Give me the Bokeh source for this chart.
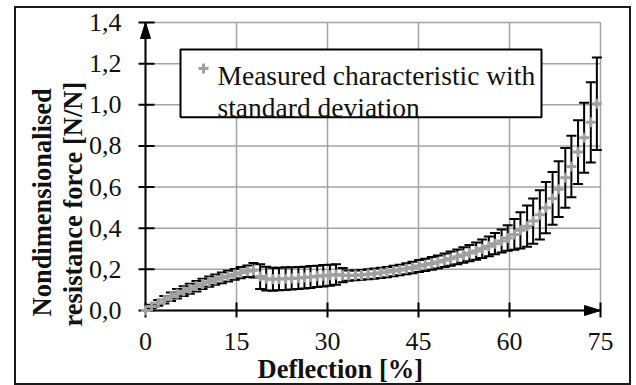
from bokeh.plotting import figure
from bokeh.layouts import column
from bokeh.models import (Range1d, FixedTicker, CustomJSTickFormatter, Label, BoxAnnotation,
                          ColumnDataSource, Title)
from bokeh.embed import file_html
from bokeh.resources import INLINE

# ---------------- data ----------------
deflection = [0.0, 1.0, 2.1, 3.1, 4.2, 5.2, 6.3, 7.3, 8.4, 9.4, 10.5, 11.5, 12.6, 13.6, 14.7, 15.7,
              16.8, 17.8, 18.9, 19.9, 21.0, 22.0, 23.1, 24.1, 25.2, 26.2, 27.2, 28.3, 29.3, 30.4,
              31.4, 32.5, 33.5, 34.6, 35.6, 36.7, 37.7, 38.8, 39.8, 40.9, 41.9, 43.0, 44.0, 45.1,
              46.1, 47.2, 48.2, 49.3, 50.3, 51.4, 52.4, 53.4, 54.5, 55.5, 56.6, 57.6, 58.7, 59.7,
              60.8, 61.8, 62.9, 63.9, 65.0, 66.0, 67.1, 68.1, 69.2, 70.2, 71.3, 72.3, 73.4, 74.4]
force_mean = [0.000, 0.020, 0.037, 0.052, 0.067, 0.081, 0.094, 0.106, 0.118, 0.129, 0.140, 0.150,
              0.159, 0.167, 0.176, 0.184, 0.191, 0.196, 0.165, 0.155, 0.152, 0.153, 0.155, 0.156,
              0.158, 0.160, 0.163, 0.166, 0.169, 0.172, 0.175, 0.172, 0.170, 0.171, 0.173, 0.176,
              0.179, 0.183, 0.187, 0.192, 0.197, 0.203, 0.209, 0.216, 0.222, 0.229, 0.236, 0.244,
              0.252, 0.261, 0.270, 0.279, 0.289, 0.300, 0.312, 0.325, 0.338, 0.352, 0.370, 0.390,
              0.410, 0.435, 0.465, 0.500, 0.545, 0.590, 0.645, 0.700, 0.770, 0.840, 0.915, 1.005]
force_std = [0.000, 0.008, 0.014, 0.018, 0.021, 0.023, 0.024, 0.024, 0.025, 0.025, 0.025, 0.025,
             0.026, 0.026, 0.026, 0.027, 0.028, 0.035, 0.060, 0.058, 0.056, 0.055, 0.055, 0.054,
             0.054, 0.053, 0.053, 0.052, 0.052, 0.051, 0.050, 0.035, 0.025, 0.024, 0.024, 0.024,
             0.025, 0.025, 0.025, 0.026, 0.026, 0.027, 0.028, 0.029, 0.030, 0.031, 0.032, 0.033,
             0.035, 0.036, 0.038, 0.040, 0.042, 0.045, 0.048, 0.052, 0.056, 0.062, 0.075, 0.088,
             0.100, 0.110, 0.120, 0.125, 0.128, 0.135, 0.145, 0.150, 0.155, 0.170, 0.195, 0.225]
x_ticks = [0, 15, 30, 45, 60, 75]
y_ticks = [0.0, 0.2, 0.4, 0.6, 0.8, 1.0, 1.2, 1.4]
legend_lines = ["Measured characteristic with", "standard deviation"]
x_title = "Deflection [%]"
y_title_lines = ["Nondimensionalised", "resistance force [N/N]"]

FONT = "Liberation Serif"
GRID = "#a3a3a3"
MARK = "#a0a0a0"
INK = "#111111"

X_MIN, X_MAX = 0, 75
Y_MIN, Y_MAX = 0.0, 1.4
SX = 455 / (X_MAX - X_MIN)      # px per % deflection
SY = 288.7 / (Y_MAX - Y_MIN)    # px per N/N

upper = [m + s for m, s in zip(force_mean, force_std)]
lower = [m - s for m, s in zip(force_mean, force_std)]
src = ColumnDataSource(dict(x=deflection, y=force_mean, hi=upper, lo=lower))

p = figure(width=613, height=375, output_backend="svg", toolbar_location=None,
           x_range=Range1d(X_MIN - 8 / SX, X_MAX + 6 / SX),
           y_range=Range1d(Y_MIN - 9 / SY, Y_MAX + 8 / SY),
           min_border_left=121, min_border_right=23, min_border_top=6, min_border_bottom=63)
p.background_fill_color = "white"
p.border_fill_color = "white"
p.outline_line_color = None
p.grid.visible = False

# axes: only labels from Bokeh, lines/ticks drawn below
p.xaxis.ticker = FixedTicker(ticks=x_ticks)
p.yaxis.ticker = FixedTicker(ticks=y_ticks)
p.yaxis.formatter = CustomJSTickFormatter(code="return tick.toFixed(1).replace('.', ',');")
for ax in (p.xaxis, p.yaxis):
    ax.axis_line_color = None
    ax.major_tick_line_color = None
    ax.minor_tick_line_color = None
    ax.major_tick_in = 0
    ax.major_tick_out = 0
    ax.major_label_text_font = FONT
    ax.major_label_text_font_size = "26px"
    ax.major_label_text_color = INK
p.xaxis.major_label_standoff = 13
p.yaxis.major_label_standoff = 16

# grid lines
p.segment(x0=x_ticks, y0=[Y_MIN] * len(x_ticks), x1=x_ticks, y1=[Y_MAX] * len(x_ticks),
          line_color=GRID, line_width=1.5)
p.segment(x0=[X_MIN] * len(y_ticks), y0=y_ticks, x1=[X_MAX] * len(y_ticks), y1=y_ticks,
          line_color=GRID, line_width=1.5)

# axis lines
p.segment(x0=[X_MIN, X_MIN], y0=[Y_MIN, Y_MIN], x1=[X_MIN, X_MAX], y1=[Y_MAX, Y_MIN],
          line_color="black", line_width=2)
# tick marks crossing the axes
p.segment(x0=[X_MIN - 7 / SX] * len(y_ticks), y0=y_ticks, x1=[X_MIN + 9 / SX] * len(y_ticks),
          y1=y_ticks, line_color="black", line_width=2)
p.segment(x0=x_ticks, y0=[Y_MIN - 7 / SY] * len(x_ticks), x1=x_ticks,
          y1=[Y_MIN + 8 / SY] * len(x_ticks), line_color="black", line_width=2)
# arrow heads
p.patch(x=[X_MIN, X_MIN - 5 / SX, X_MIN + 5 / SX], y=[Y_MAX, Y_MAX - 16 / SY, Y_MAX - 16 / SY],
        fill_color="black", line_color="black")
p.patch(x=[X_MAX, X_MAX - 16 / SX, X_MAX - 16 / SX], y=[Y_MIN, Y_MIN + 5 / SY, Y_MIN - 5 / SY],
        fill_color="black", line_color="black")

# error bars
p.segment(x0="x", y0="lo", x1="x", y1="hi", source=src, line_color="black", line_width=2)
p.scatter(x="x", y="hi", source=src, marker="dash", size=10, line_color="black", line_width=2)
p.scatter(x="x", y="lo", source=src, marker="dash", size=10, line_color="black", line_width=2)
# mean markers
p.scatter(x="x", y="y", source=src, marker="cross", size=10, line_color=MARK, line_width=3)

# legend box
p.add_layout(BoxAnnotation(left=(180 - 145) / SX, right=(541 - 145) / SX,
                           top=(310.7 - 49) / SY, bottom=(310.7 - 117) / SY,
                           fill_color="white", fill_alpha=1, line_color="black",
                           line_alpha=1, line_width=2))
leg_mark = p.scatter(x=[(203 - 145) / SX], y=[(310.7 - 68) / SY], marker="cross", size=10,
                     line_color=MARK, line_width=3)
leg_mark.level = "overlay"
p.add_layout(Label(x=(217 - 145) / SX, y=(310.7 - 75) / SY, text=legend_lines[0],
                   text_font=FONT, text_font_size="27.5px", text_baseline="alphabetic",
                   text_color=INK))
p.add_layout(Label(x=(217 - 145) / SX, y=(310.7 - 107) / SY, text=legend_lines[1],
                   text_font=FONT, text_font_size="27.5px", text_baseline="alphabetic",
                   text_color=INK))

# axis titles
p.add_layout(Title(text=x_title, align="left", offset=120, standoff=-1, text_font=FONT,
                   text_font_style="bold", text_font_size="26.5px", text_color=INK), "below")
p.add_layout(Title(text=y_title_lines[1], align="left", offset=-7, standoff=-4, text_font=FONT,
                   text_font_style="bold", text_font_size="26.5px", text_color=INK), "left")
p.add_layout(Title(text=y_title_lines[0], align="left", offset=3, standoff=2, text_font=FONT,
                   text_font_style="bold", text_font_size="26.5px", text_color=INK), "left")

layout = column(p, margin=(6, 0, 0, 14), styles={"border": "2px solid #1a1a1a"})
open("out.html", "w").write(file_html(layout, INLINE))
